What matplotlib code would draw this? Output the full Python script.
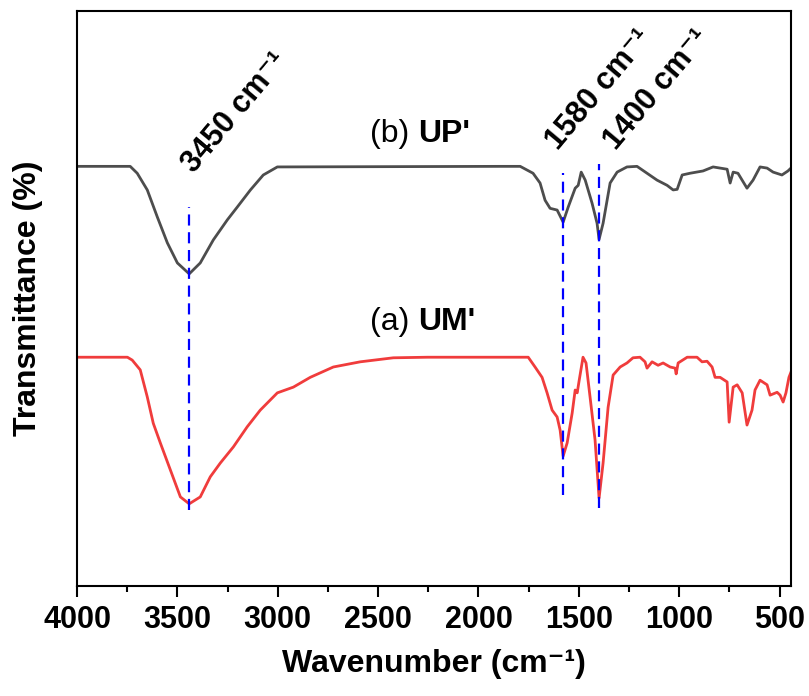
import numpy as np
import matplotlib.pyplot as plt
from matplotlib.ticker import MultipleLocator

plt.rcParams['font.family'] = ['Liberation Sans', 'DejaVu Sans']

# (b) UP' spectrum
wn_up = [4000, 3735, 3700, 3650, 3600, 3550, 3500, 3441, 3386, 3321, 3251, 3202,
         3136, 3072, 3002, 1892, 1792, 1728, 1693, 1668, 1643, 1608, 1578, 1553,
         1518, 1503, 1488, 1468, 1434, 1409, 1399, 1379, 1344, 1309, 1260, 1210,
         1160, 1110, 1060, 1030, 1010, 985, 946, 881, 831, 796, 761, 746, 731,
         707, 662, 632, 597, 562, 532, 488, 458, 443]
tr_up = [73.0, 73.0, 71.8, 68.9, 64.2, 59.7, 56.2, 54.3, 56.2, 60.2, 63.7, 65.9,
         68.9, 71.5, 72.9, 73.0, 73.0, 71.8, 70.1, 67.1, 65.7, 65.4, 63.3, 65.9,
         69.2, 69.7, 72.0, 70.6, 66.6, 63.1, 60.3, 63.1, 70.1, 72.0, 72.9, 73.0,
         71.8, 70.6, 69.7, 68.9, 69.0, 71.5, 71.8, 72.2, 72.9, 72.7, 72.5, 70.1,
         72.0, 71.8, 69.2, 70.6, 72.9, 72.7, 72.0, 71.5, 72.2, 72.7]

# (a) UM' spectrum
wn_um = [4000, 3749, 3725, 3685, 3650, 3620, 3585, 3535, 3485, 3441, 3386, 3336,
         3286, 3221, 3152, 3087, 3002, 2922, 2838, 2723, 2589, 2424, 2255, 1892,
         1752, 1718, 1683, 1658, 1633, 1608, 1593, 1578, 1558, 1533, 1518, 1508,
         1498, 1479, 1464, 1444, 1419, 1399, 1379, 1354, 1329, 1294, 1260, 1230,
         1195, 1170, 1160, 1135, 1105, 1080, 1045, 1020, 1015, 1005, 960, 911,
         886, 861, 836, 821, 796, 761, 751, 731, 711, 686, 662, 637, 622, 597,
         562, 547, 512, 497, 482, 468, 453, 443]
tr_um = [39.8, 39.8, 39.3, 37.6, 32.9, 28.3, 24.9, 20.2, 15.5, 14.3, 15.5, 19.0,
         21.4, 24.2, 27.7, 30.6, 33.6, 34.6, 36.3, 38.1, 39.0, 39.7, 39.8, 39.8,
         39.8, 38.1, 36.3, 33.6, 30.6, 29.4, 27.1, 22.6, 24.9, 30.1, 34.1, 33.6,
         35.8, 39.8, 38.8, 32.9, 25.4, 15.3, 21.4, 31.1, 36.7, 38.1, 38.8, 39.7,
         39.8, 39.0, 37.9, 39.0, 38.4, 38.8, 38.1, 37.9, 36.9, 38.8, 39.8, 39.8,
         39.0, 39.1, 38.1, 36.3, 36.3, 35.5, 28.5, 34.6, 35.0, 33.6, 28.0, 30.6,
         34.1, 35.8, 35.0, 33.2, 33.7, 33.2, 32.0, 33.6, 36.3, 37.2]

# marked bands: line position, dashed line span, label and label position
band_pos = [3440, 1578, 1398]
band_top = [65.9, 71.8, 73.4]
band_bot = [13.2, 15.8, 13.6]
band_labels = ['3450', '1580', '1400']
label_x = [3215, 1400, 1110]
label_y = [82.3, 86.4, 86.3]

fig = plt.figure(figsize=(8.09, 6.96), dpi=100)
ax = fig.add_axes([0.0952, 0.158, 0.8825, 0.826])

ax.plot(wn_up, tr_up, color='#4d4d4d', lw=2)
ax.plot(wn_um, tr_um, color='#f03c3c', lw=2)

for x, t, b in zip(band_pos, band_top, band_bot):
    ax.plot([x, x], [b, t], color='#0000ff', lw=1.6, dashes=(5, 3))

for lab, x, y in zip(band_labels, label_x, label_y):
    ax.text(x, y, lab + ' cm\u207b\u00b9', rotation=50, ha='center', va='center',
            rotation_mode='anchor', fontsize=22, fontweight='bold')

ax.text(2300, 78.6, "(b) ", ha='right', va='center', fontsize=23)
ax.text(2300, 78.6, "UP'", ha='left', va='center', fontsize=23, fontweight='bold')
ax.text(2300, 45.9, "(a) ", ha='right', va='center', fontsize=23)
ax.text(2300, 45.9, "UM'", ha='left', va='center', fontsize=23, fontweight='bold')

ax.set_xlim(4000, 443)
ax.set_ylim(0, 100)
ax.xaxis.set_major_locator(MultipleLocator(500))
ax.xaxis.set_minor_locator(MultipleLocator(250))
ax.tick_params(axis='x', which='major', direction='out', length=8, width=1.5,
               labelsize=22, pad=6)
ax.tick_params(axis='x', which='minor', direction='out', length=4, width=1.5)
ax.set_yticks([])
for lbl in ax.get_xticklabels():
    lbl.set_fontweight('bold')
for s in ax.spines.values():
    s.set_linewidth(1.5)

ax.set_xlabel('Wavenumber (cm\u207b\u00b9)', fontsize=23, fontweight='bold', labelpad=10)
ax.set_ylabel('Transmittance (%)', fontsize=23, fontweight='bold')
ax.yaxis.set_label_coords(-0.048, 0.5)

fig.savefig('out.png', dpi=100)
